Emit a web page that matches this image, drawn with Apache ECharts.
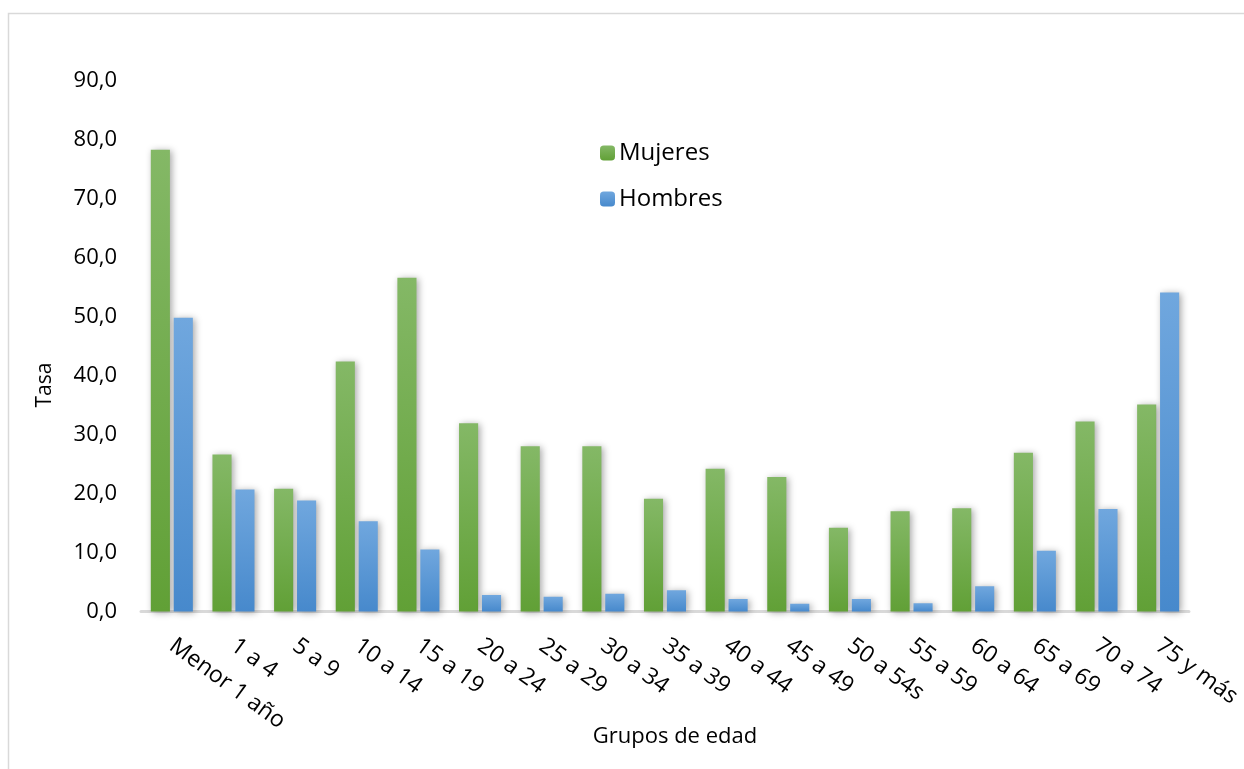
<!DOCTYPE html>
<html>
<head>
<meta charset="utf-8">
<script src="https://cdn.jsdelivr.net/npm/echarts@6/dist/echarts.min.js"></script>
<style>
html,body{margin:0;padding:0;background:#fff;}
#chart{width:1244px;height:769px;}
</style>
</head>
<body>
<div id="chart"></div>
<script>
const categories = ['Menor 1 año','1 a 4','5 a 9','10 a 14','15 a 19','20 a 24','25 a 29','30 a 34','35 a 39','40 a 44','45 a 49','50 a 54s','55 a 59','60 a 64','65 a 69','70 a 74','75 y más'];
const mujeres = [78.3, 26.6, 20.8, 42.4, 56.6, 31.9, 28.0, 28.0, 19.1, 24.2, 22.8, 14.2, 17.0, 17.5, 26.9, 32.2, 35.1];
const hombres = [49.8, 20.7, 18.8, 15.3, 10.5, 2.8, 2.5, 3.0, 3.6, 2.1, 1.3, 2.1, 1.4, 4.3, 10.3, 17.4, 54.1];
const yTicks = [0, 10, 20, 30, 40, 50, 60, 70, 80, 90];

const FONT = 'Open Sans';
const chart = echarts.init(document.getElementById('chart'));
function grad(top, bottom){
  return new echarts.graphic.LinearGradient(0,0,0,1,[{offset:0,color:top},{offset:1,color:bottom}]);
}
chart.setOption({
  backgroundColor:'#fff',
  textStyle:{fontFamily:FONT},
  graphic:[
    {type:'rect',shape:{x:8.5,y:13.5,width:1300,height:800},style:{fill:'none',stroke:'#d9d9d9',lineWidth:1.5},silent:true},
    {type:'text',x:45,y:385,rotation:Math.PI/2,style:{text:'Tasa',fontSize:21,fontFamily:FONT,fill:'#000',align:'center',verticalAlign:'middle'},silent:true}
  ],
  grid:{left:141,right:54,top:80.7,bottom:157.5,containLabel:false},
  legend:{
    orient:'vertical', left:595, top:136, itemGap:22, itemWidth:15, itemHeight:15,
    textStyle:{fontSize:24,color:'#000',fontFamily:FONT,padding:[0,0,0,-1]},
    data:['Mujeres','Hombres']
  },
  xAxis:{
    type:'category', data:categories,
    name:'Grupos de edad', nameLocation:'middle', nameGap:114, nameMoveOverlap:false,
    nameTextStyle:{fontSize:22,color:'#000',fontFamily:FONT,padding:[0,0,0,20]},
    axisLine:{lineStyle:{color:'#d9d9d9',width:3}},
    axisTick:{show:false},
    axisLabel:{rotate:-36, fontSize:23, color:'#000', fontFamily:FONT, margin:32, interval:0}
  },
  yAxis:{
    type:'value', min:yTicks[0], max:yTicks[yTicks.length-1], interval:10,
    axisLine:{show:false}, axisTick:{show:false}, splitLine:{show:false},
    axisLabel:{fontSize:22,color:'#000',fontFamily:FONT,margin:24,
      formatter:v=>v.toFixed(1).replace('.',',')}
  },
  series:[
    {name:'Mujeres', type:'bar', data:mujeres, barWidth:'31%', barGap:'20%',
      itemStyle:{color:grad('#84b866','#61a036'), shadowBlur:7, shadowColor:'rgba(0,0,0,0.35)', shadowOffsetX:2, shadowOffsetY:1}},
    {name:'Hombres', type:'bar', data:hombres, barWidth:'31%',
      itemStyle:{color:grad('#70a7de','#4789cc'), shadowBlur:7, shadowColor:'rgba(0,0,0,0.35)', shadowOffsetX:2, shadowOffsetY:1}}
  ]
});
</script>
</body>
</html>
